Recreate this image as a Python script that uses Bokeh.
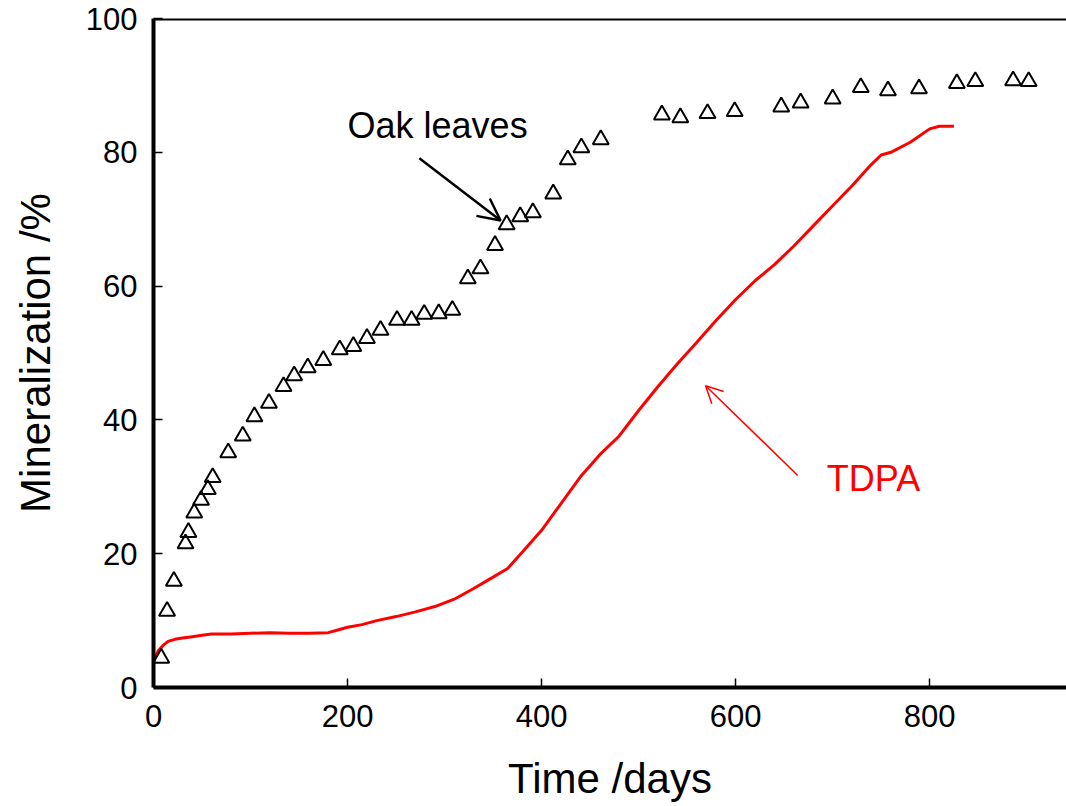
from bokeh.plotting import figure
from bokeh.models import Range1d, Span, Arrow, OpenHead, Label, FixedTicker
from bokeh.embed import file_html
from bokeh.resources import INLINE

# ---- data ----
oak_days = [8, 14, 21, 33, 36, 42, 49, 56, 61, 77, 92, 104, 119, 134, 145, 159, 175, 192, 206,
            220, 234, 251, 266, 279, 294, 308, 324, 337, 352, 364, 378, 391, 412, 427, 441, 461,
            524, 543, 571, 599, 647, 667, 700, 729, 757, 789, 828, 847, 886, 902]
oak_min = [4.4, 11.4, 15.9, 21.5, 23.2, 26.1, 28.0, 29.6, 31.4, 35.1, 37.6, 40.5, 42.5, 45.0,
           46.6, 47.8, 48.9, 50.5, 51.0, 52.2, 53.4, 54.9, 54.9, 55.8, 55.9, 56.4, 61.1, 62.6,
           66.1, 69.2, 70.4, 71.0, 73.8, 78.9, 80.7, 81.9, 85.6, 85.2, 85.8, 86.1, 86.8, 87.4,
           88.0, 89.7, 89.2, 89.5, 90.3, 90.6, 90.7, 90.6]

tdpa_days = [0, 5, 10, 15, 22, 30, 40, 50, 60, 80, 100, 120, 140, 160, 180, 190, 200, 215, 230,
             250, 270, 290, 310, 330, 350, 365, 380, 400, 420, 440, 460, 480, 500, 520, 540, 560,
             580, 600, 620, 640, 660, 680, 700, 720, 740, 750, 760, 780, 800, 810, 825]
tdpa_min = [4.0, 5.5, 6.3, 6.9, 7.2, 7.4, 7.6, 7.8, 8.0, 8.0, 8.1, 8.2, 8.1, 8.1, 8.2, 8.6, 9.0,
            9.4, 10.0, 10.6, 11.3, 12.1, 13.2, 14.8, 16.5, 17.8, 20.2, 23.5, 27.5, 31.5, 34.8,
            37.6, 41.4, 45.0, 48.4, 51.6, 54.9, 58.0, 60.8, 63.2, 66.0, 69.0, 72.0, 75.0, 78.2,
            79.6, 80.0, 81.5, 83.5, 83.9, 83.9]

x_ticks = [0, 200, 400, 600, 800]
y_ticks = [0, 20, 40, 60, 80, 100]

x_label = "Time /days"
y_label = "Mineralization /%"

# annotation positions (data units)
oak_label_pos = (200, 84.0)
oak_arrow = (274, 79.1, 357.7, 69.8)
tdpa_label_pos = (694, 31.3)
tdpa_arrow = (664, 31.7, 569, 45.1)

FONT = "Liberation Sans"

p = figure(width=1066, height=806, x_range=Range1d(0, 941), y_range=Range1d(0, 100),
           output_backend="svg", toolbar_location=None,
           min_border_left=153, min_border_right=0, min_border_top=18, min_border_bottom=119)
p.outline_line_color = None
p.grid.visible = False
p.background_fill_color = "white"

p.xaxis.ticker = FixedTicker(ticks=x_ticks)
p.yaxis.ticker = FixedTicker(ticks=y_ticks)
p.xaxis.axis_label = x_label
p.yaxis.axis_label = y_label
for ax in (p.xaxis[0], p.yaxis[0]):
    ax.axis_line_width = 4
    ax.axis_line_color = "black"
    ax.major_tick_in = 9
    ax.major_tick_out = 0
    ax.major_tick_line_width = 1.5
    ax.major_tick_line_color = "black"
    ax.minor_tick_line_color = None
    ax.major_label_text_font = FONT
    ax.major_label_text_font_size = "31px"
    ax.major_label_text_color = "black"
    ax.axis_label_text_font = FONT
    ax.axis_label_text_font_size = "42px"
    ax.axis_label_text_font_style = "normal"
    ax.axis_label_text_color = "black"
p.xaxis.major_label_standoff = 17
p.xaxis.axis_label_standoff = 25
p.yaxis.major_label_standoff = 16
p.yaxis.axis_label_standoff = 24

p.add_layout(Span(location=100, dimension="width", line_color="black", line_width=4))

p.line(tdpa_days, tdpa_min, line_color="red", line_width=3)
p.scatter(oak_days, oak_min, marker="triangle", size=16, fill_color=None,
          line_color="black", line_width=2)

p.add_layout(Arrow(end=OpenHead(size=22, line_width=2.5, line_color="black"),
                   x_start=oak_arrow[0], y_start=oak_arrow[1],
                   x_end=oak_arrow[2], y_end=oak_arrow[3],
                   line_width=2.5, line_color="black"))
p.add_layout(Arrow(end=OpenHead(size=17, line_width=1.5, line_color="red"),
                   x_start=tdpa_arrow[0], y_start=tdpa_arrow[1],
                   x_end=tdpa_arrow[2], y_end=tdpa_arrow[3],
                   line_width=1.5, line_color="red"))

p.add_layout(Label(x=oak_label_pos[0], y=oak_label_pos[1], text="Oak leaves",
                   text_font=FONT, text_font_size="36px", text_color="black",
                   text_baseline="alphabetic"))
p.add_layout(Label(x=tdpa_label_pos[0], y=tdpa_label_pos[1], text="TDPA",
                   text_font=FONT, text_font_size="36px", text_color="red",
                   text_baseline="alphabetic"))

open("out.html", "w").write(file_html(p, INLINE))
